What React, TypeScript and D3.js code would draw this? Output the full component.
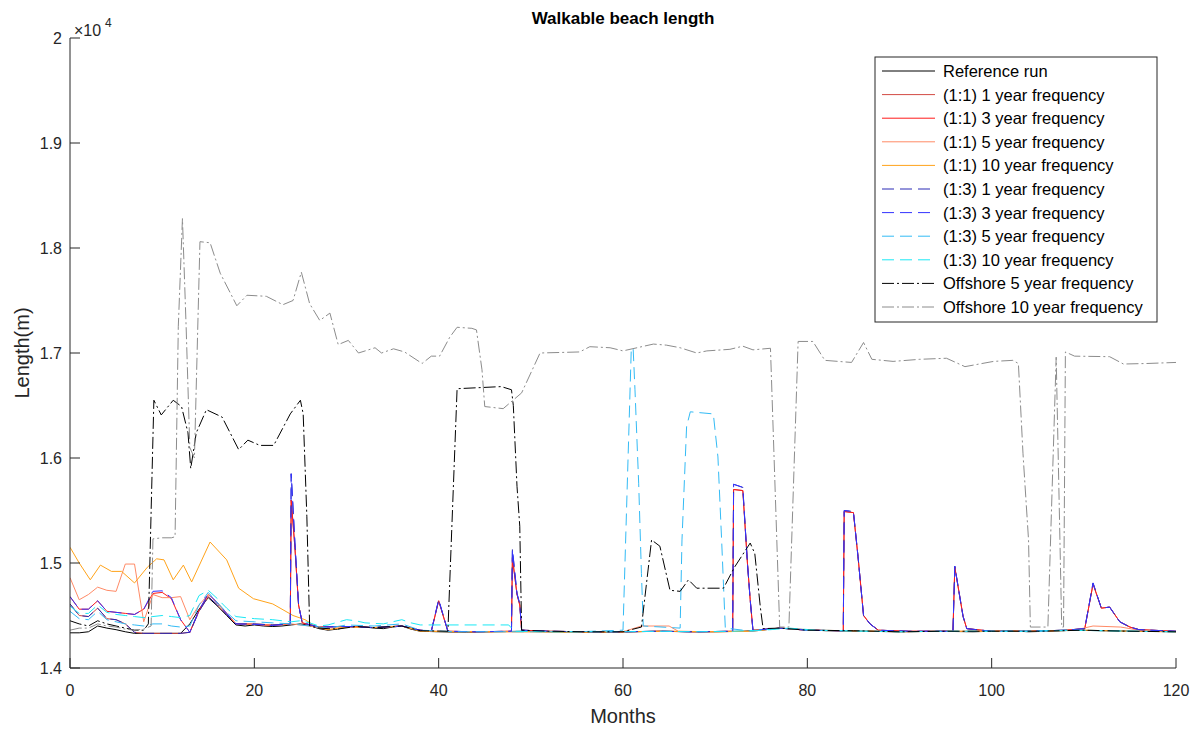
import React from 'react';
import * as d3 from 'd3';

type Pt = [number, number];

// [month, length (m)]
const referenceRun: Pt[] = [
  [0,14335],[1,14335],[2,14345],[3,14400],[4,14380],[5,14365],[6,14345],[7,14330],[8,14330],[9,14330],[10,14330],[11,14330],[12,14330],[13,14420],[14,14560],[15,14670],[16,14590],[17,14500],[18,14410],[19,14400],[20,14410],[21,14400],[22,14395],[23,14400],[24,14410],[25,14420],[26,14405],[27,14375],[28,14360],[29,14370],[30,14390],[31,14395],[32,14390],[33,14380],[34,14375],[35,14390],[36,14400],[37,14370],[38,14350],[40,14345],[43,14340],[46,14345],[49,14350],[52,14345],[55,14340],[58,14340],[61,14345],[64,14350],[67,14345],[70,14345],[73,14350],[75,14360],[77,14380],[79,14370],[82,14355],[86,14350],[90,14345],[94,14350],[98,14345],[102,14355],[104,14345],[106,14350],[109,14360],[112,14355],[116,14350],[120,14345]
];

const oneOne1yr: Pt[] = [
  [0,14610],[1,14500],[2,14490],[3,14570],[4,14470],[5,14460],[6,14420],[7,14340],[8,14330],[10,14330],[12,14330],[13,14340],[14,14540],[15,14680],[16,14600],[17,14510],[18,14420],[20,14420],[22,14410],[23.9,14420],[24,15600],[24.4,15150],[24.8,14600],[25.2,14430],[27,14390],[30,14395],[33,14385],[36,14400],[38,14360],[39.2,14350],[40,14640],[41,14350],[44,14345],[47.9,14350],[48,15050],[48.5,14700],[48.8,14600],[49,14360],[52,14350],[56,14345],[60,14345],[64,14350],[68,14345],[71.9,14350],[72,15700],[73,15690],[73.5,15000],[73.8,14650],[74.1,14360],[77,14380],[80,14360],[83.9,14355],[84,15490],[85,15480],[85.5,15060],[86.1,14500],[86.8,14420],[87.7,14360],[91,14350],[95.8,14350],[96,14960],[96.5,14700],[96.9,14490],[97.3,14375],[100,14350],[104,14350],[108,14360],[110.1,14375],[111,14800],[111.9,14570],[112.8,14580],[113.9,14440],[115,14390],[116,14365],[120,14350]
];

const oneOne3yr: Pt[] = [
  [0,14680],[1,14560],[2,14560],[3,14640],[4,14540],[5,14530],[6,14520],[7,14510],[8,14560],[9,14710],[10,14720],[11,14660],[12,14460],[13,14340],[14,14550],[15,14700],[16,14620],[17,14520],[18,14420],[20,14415],[22,14405],[23.9,14420],[24,15600],[24.4,15150],[24.8,14600],[25.2,14430],[27,14390],[30,14395],[33,14385],[36,14400],[38,14360],[39.2,14350],[40,14640],[41,14350],[44,14345],[47.9,14350],[48,15050],[48.5,14700],[48.8,14600],[49,14360],[52,14350],[56,14345],[60,14345],[64,14350],[68,14345],[71.9,14350],[72,15700],[73,15690],[73.5,15000],[73.8,14650],[74.1,14360],[77,14380],[80,14360],[83.9,14355],[84,15490],[85,15480],[85.5,15060],[86.1,14500],[86.8,14420],[87.7,14360],[91,14350],[95.8,14350],[96,14960],[96.5,14700],[96.9,14490],[97.3,14375],[100,14350],[104,14350],[108,14360],[110.1,14375],[111,14800],[111.9,14570],[112.8,14580],[113.9,14440],[115,14390],[116,14365],[120,14350]
];

const oneOne5yr: Pt[] = [
  [0,14860],[1,14650],[2,14700],[3,14770],[4,14740],[5,14730],[6,14990],[7,14990],[8,14440],[9,14700],[10,14670],[11,14670],[12,14680],[13,14460],[14,14600],[15,14700],[16,14620],[17,14520],[18,14420],[20,14415],[22,14410],[24,14420],[26,14400],[28,14365],[30,14390],[33,14385],[36,14400],[38,14355],[42,14345],[46,14345],[50,14345],[55,14345],[60,14345],[62,14400],[65,14400],[66,14350],[70,14345],[74,14350],[77,14380],[80,14360],[85,14355],[90,14345],[95,14350],[100,14350],[105,14350],[109,14360],[111,14400],[114,14390],[116,14360],[120,14345]
];

const oneOne10yr: Pt[] = [
  [0,15150],[1,15000],[2.2,14840],[3.3,14980],[4.5,14920],[5.6,14920],[7,14810],[8.4,14960],[9.4,15040],[10.2,15030],[11.2,14840],[12.3,14980],[13.2,14820],[15.2,15200],[17,15030],[18.3,14760],[19.9,14660],[22,14610],[24.2,14500],[25.5,14460],[26.6,14400],[28,14365],[30,14390],[33,14385],[36,14400],[38,14350],[42,14345],[46,14345],[50,14345],[55,14340],[60,14345],[65,14350],[70,14345],[74,14350],[77,14380],[80,14360],[85,14355],[90,14345],[95,14350],[100,14350],[105,14350],[110,14360],[115,14350],[120,14345]
];

const oneThree1yr: Pt[] = [
  [0,14610],[1,14500],[2,14490],[3,14570],[4,14470],[5,14460],[6,14420],[7,14340],[8,14330],[10,14330],[12,14330],[13,14340],[14,14540],[15,14680],[16,14600],[17,14510],[18,14420],[20,14420],[22,14410],[23.9,14420],[24,15850],[24.4,15200],[24.8,14600],[25.2,14430],[27,14390],[30,14395],[33,14385],[36,14400],[38,14360],[39.2,14350],[40,14650],[41,14350],[44,14345],[47.9,14350],[48,15130],[48.5,14710],[48.8,14610],[49,14360],[52,14350],[56,14345],[60,14345],[64,14350],[68,14345],[71.9,14350],[72,15750],[73,15720],[73.5,15000],[73.8,14650],[74.1,14360],[77,14380],[80,14360],[83.9,14355],[84,15500],[85,15490],[85.5,15060],[86.1,14500],[86.8,14420],[87.7,14360],[91,14350],[95.8,14350],[96,14970],[96.5,14700],[96.9,14490],[97.3,14375],[100,14350],[104,14350],[108,14360],[110.1,14375],[111,14810],[111.9,14570],[112.8,14580],[113.9,14440],[115,14390],[116,14365],[120,14350]
];

const oneThree3yr: Pt[] = [
  [0,14680],[1,14560],[2,14560],[3,14640],[4,14540],[5,14530],[6,14520],[7,14510],[8,14560],[9,14730],[10,14735],[11,14670],[12,14460],[13,14340],[14,14550],[15,14710],[16,14620],[17,14520],[18,14420],[20,14415],[22,14405],[23.9,14420],[24,15850],[24.4,15200],[24.8,14600],[25.2,14430],[27,14390],[30,14395],[33,14385],[36,14400],[38,14360],[39.2,14350],[40,14650],[41,14350],[44,14345],[47.9,14350],[48,15130],[48.5,14710],[48.8,14610],[49,14360],[52,14350],[56,14345],[60,14345],[64,14350],[68,14345],[71.9,14350],[72,15750],[73,15720],[73.5,15000],[73.8,14650],[74.1,14360],[77,14380],[80,14360],[83.9,14355],[84,15500],[85,15490],[85.5,15060],[86.1,14500],[86.8,14420],[87.7,14360],[91,14350],[95.8,14350],[96,14970],[96.5,14700],[96.9,14490],[97.3,14375],[100,14350],[104,14350],[108,14360],[110.1,14375],[111,14810],[111.9,14570],[112.8,14580],[113.9,14440],[115,14390],[116,14365],[120,14350]
];

const oneThree5yr: Pt[] = [
  [0,14540],[1,14470],[2,14460],[3,14540],[4,14460],[5,14440],[6,14420],[7,14410],[8,14400],[9,14420],[10,14420],[11,14400],[12,14390],[13,14400],[14,14600],[15,14720],[16,14620],[17,14530],[18,14450],[20,14440],[22,14430],[24,14420],[26,14400],[28,14380],[30,14410],[33,14400],[36,14420],[38,14360],[42,14345],[46,14345],[50,14345],[55,14345],[60,14360],[60.9,17045],[61.1,17045],[61.3,16650],[61.7,15760],[62,14900],[62.2,14400],[66.2,14380],[66.4,15220],[66.9,16300],[67.3,16440],[69.8,16420],[70.3,16010],[70.7,15220],[71.1,14380],[74,14350],[77,14380],[80,14360],[85,14355],[90,14345],[95,14350],[100,14350],[105,14350],[110,14360],[115,14350],[120,14345]
];

const oneThree10yr: Pt[] = [
  [0,14590],[1,14520],[2,14520],[3,14600],[4,14530],[5,14510],[6,14500],[7,14490],[8,14480],[9,14490],[10,14500],[11,14490],[12,14480],[13,14500],[14,14690],[15,14740],[16,14660],[17,14570],[18,14490],[19,14480],[20,14470],[22,14460],[24,14440],[25,14450],[26,14430],[27,14400],[28,14410],[30,14460],[31,14450],[32,14430],[34,14420],[36,14460],[37,14430],[38,14410],[47.6,14410],[48.2,14350],[52,14345],[56,14345],[60,14345],[64,14350],[68,14345],[72,14350],[76,14365],[78,14380],[81,14360],[86,14350],[90,14345],[95,14350],[100,14350],[104,14350],[108,14360],[112,14355],[116,14350],[120,14345]
];

const offshore5yr: Pt[] = [
  [0,14450],[1,14420],[2,14400],[3,14450],[4,14420],[5,14400],[6,14380],[7,14360],[8,14360],[8.5,14420],[9.1,16550],[9.9,16410],[11.2,16550],[12.1,16490],[12.8,16240],[13.1,15900],[13.7,16240],[14.8,16460],[16.5,16390],[18.3,16080],[19.3,16170],[20.6,16120],[22.1,16120],[23.9,16420],[25,16550],[25.3,16420],[25.7,15440],[26,14400],[27,14380],[29,14370],[31,14395],[33,14385],[36,14400],[38,14355],[41,14350],[42,16660],[46.8,16680],[47.9,16650],[48.1,16500],[48.5,15730],[48.8,15350],[49,14360],[52,14350],[56,14345],[60,14345],[62,14390],[63.1,15220],[64,15160],[65.1,14740],[66.2,14730],[67.1,14840],[68,14760],[70.9,14760],[72.1,14960],[73.8,15190],[74.3,15090],[74.9,14580],[75.2,14375],[77,14380],[80,14360],[85,14355],[90,14345],[95,14350],[100,14350],[105,14350],[110,14360],[115,14350],[120,14345]
];

const offshore10yr: Pt[] = [
  [0,14360],[1,14380],[2,14380],[3,14420],[4,14400],[5,14390],[6,14370],[7,14360],[8,14370],[8.8,14400],[9,15230],[10,15240],[11,15240],[11.4,15250],[11.75,17250],[12.2,18280],[12.6,17250],[13,16100],[13.5,16000],[14.1,18060],[15.2,18050],[16.3,17760],[18.1,17450],[19.2,17550],[21.3,17540],[23.1,17460],[24.2,17500],[25.1,17770],[26,17470],[27.1,17310],[28.2,17380],[29.1,17080],[30.2,17120],[31.3,17000],[33.1,17050],[33.8,17000],[35.1,17040],[36.3,17010],[38.2,16900],[39.2,16970],[40.1,16970],[41.2,17150],[42,17245],[43.6,17235],[44.1,17220],[44.7,16840],[45,16490],[47,16470],[49,16620],[51,17000],[55.3,17010],[56.4,17060],[58.6,17050],[60,17020],[63.3,17085],[64.7,17075],[66.2,17050],[68,17000],[69.1,17020],[71.6,17035],[73,17065],[74.1,17030],[76,17045],[77,14390],[78,14390],[79,17110],[80.6,17110],[81.9,16930],[84.8,16910],[86.1,17100],[87,16940],[89.3,16920],[92.2,16940],[95.1,16950],[97.1,16870],[100.2,16920],[102.3,16930],[102.9,16900],[103.4,16040],[104,15220],[104.2,14390],[106.1,14390],[107,16960],[107.6,14390],[107.8,14390],[108,17010],[109,16970],[112.8,16965],[114.3,16895],[116.8,16900],[120,16910]
];

const seriesNames = [
  'Reference run',
  '(1:1) 1 year frequency',
  '(1:1) 3 year frequency',
  '(1:1) 5 year frequency',
  '(1:1) 10 year frequency',
  '(1:3) 1 year frequency',
  '(1:3) 3 year frequency',
  '(1:3) 5 year frequency',
  '(1:3) 10 year frequency',
  'Offshore 5 year frequency',
  'Offshore 10 year frequency',
];
const seriesData = [referenceRun, oneOne1yr, oneOne3yr, oneOne5yr, oneOne10yr, oneThree1yr, oneThree3yr, oneThree5yr, oneThree10yr, offshore5yr, offshore10yr];
const seriesColors = ['#000000', '#d24a44', '#ff1a1a', '#ff8a66', '#ffa31a', '#2a2ab5', '#3333ff', '#33bbf5', '#1ae8f5', '#000000', '#8c8c8c'];
const seriesDash = ['', '', '', '', '', '12,6', '12,6', '12,6', '12,6', '12,3,2,3', '12,3,2,3'];

const xTicks = [0, 20, 40, 60, 80, 100, 120];
const yTicks = [14000, 15000, 16000, 17000, 18000, 19000, 20000];
const yTickLabels = ['1.4', '1.5', '1.6', '1.7', '1.8', '1.9', '2'];

export default function App() {
  const x = d3.scaleLinear().domain([0, 120]).range([70, 1176]);
  const y = d3.scaleLinear().domain([14000, 20000]).range([668, 38]);
  const line = d3.line<Pt>().x(d => x(d[0])).y(d => y(d[1]));
  const axisColor = '#262626';
  const font = '"Liberation Sans", Arial, Helvetica, sans-serif';
  const legX = 875, legY = 57, legW = 282, legH = 265, rowStep = 23.6;

  return (
    <svg width={1199} height={729} style={{ position: 'absolute', left: 0, top: 0, background: '#fff' }} fontFamily={font}>
      <rect x={0} y={0} width={1199} height={729} fill="#fff" />
      <defs>
        <clipPath id="plotClip">
          <rect x={70} y={38} width={1106} height={630} />
        </clipPath>
      </defs>
      <g clipPath="url(#plotClip)">
        {seriesData.map((d, i) => (
          <path key={i} d={line(d) || ''} fill="none" stroke={seriesColors[i]} strokeWidth={1}
            strokeDasharray={seriesDash[i] || undefined} strokeLinejoin="round" />
        ))}
      </g>
      {/* axes */}
      <line x1={70} y1={668} x2={1176} y2={668} stroke={axisColor} strokeWidth={1} />
      <line x1={70} y1={38} x2={70} y2={668} stroke={axisColor} strokeWidth={1} />
      {xTicks.map(t => (
        <g key={'x' + t}>
          <line x1={x(t)} y1={668} x2={x(t)} y2={658} stroke={axisColor} strokeWidth={1} />
          <text x={x(t)} y={696} textAnchor="middle" fontSize={16} fill={axisColor}>{t}</text>
        </g>
      ))}
      {yTicks.map((t, i) => (
        <g key={'y' + t}>
          <line x1={70} y1={y(t)} x2={80} y2={y(t)} stroke={axisColor} strokeWidth={1} />
          <text x={62} y={y(t) + 6} textAnchor="end" fontSize={16} fill={axisColor}>{yTickLabels[i]}</text>
        </g>
      ))}
      <text x={74} y={36} fontSize={16} fill={axisColor}>×10</text>
      <text x={105} y={27} fontSize={12} fill={axisColor}>4</text>
      <text x={623} y={24} textAnchor="middle" fontSize={17} fontWeight="bold" fill="#000">Walkable beach length</text>
      <text x={623} y={723} textAnchor="middle" fontSize={20} fill={axisColor}>Months</text>
      <text transform="translate(29,353) rotate(-90)" textAnchor="middle" fontSize={20} fill={axisColor}>Length(m)</text>
      {/* legend */}
      <rect x={legX} y={legY} width={legW} height={legH} fill="#fff" stroke={axisColor} strokeWidth={1} />
      {seriesNames.map((n, i) => {
        const ry = 71 + i * rowStep;
        return (
          <g key={'l' + i}>
            <line x1={882} y1={ry} x2={935} y2={ry} stroke={seriesColors[i]} strokeWidth={1}
              strokeDasharray={seriesDash[i] || undefined} />
            <text x={943} y={ry + 6} fontSize={16.5} fill="#000">{n}</text>
          </g>
        );
      })}
    </svg>
  );
}
